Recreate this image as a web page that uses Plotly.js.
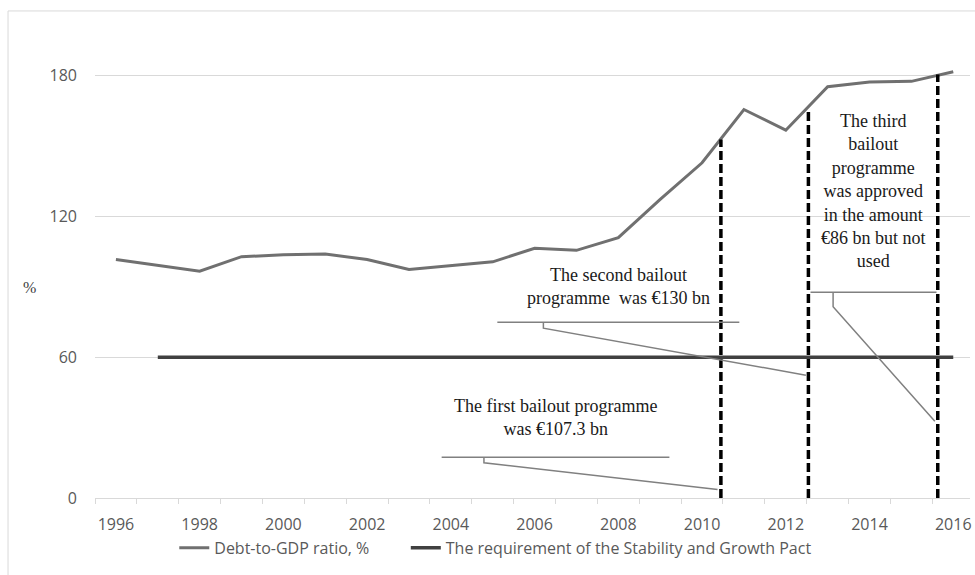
<!DOCTYPE html>
<html>
<head>
<meta charset="utf-8">
<script src="https://cdn.plot.ly/plotly-3.0.1.min.js"></script>
<style>html,body{margin:0;padding:0;background:#fff;}#chart{width:975px;height:575px;}</style>
</head>
<body>
<div id="chart"></div>
<script>
// ---- data ----
const years = [1996,1997,1998,1999,2000,2001,2002,2003,2004,2005,2006,2007,2008,2009,2010,2011,2012,2013,2014,2015,2016];
const debtToGDP = [101.6,99.0,96.6,102.8,103.6,103.9,101.6,97.4,99.1,100.6,106.4,105.5,110.9,127.2,142.8,165.5,156.7,175.2,177.2,177.5,181.6];
const sgpYears = [1997,1998,1999,2000,2001,2002,2003,2004,2005,2006,2007,2008,2009,2010,2011,2012,2013,2014,2015,2016];
const sgpLimit = [60,60,60,60,60,60,60,60,60,60,60,60,60,60,60,60,60,60,60,60];
const programmeDates = [2010.45, 2012.54, 2015.63];
const programmeTops = [152.7, 165.5, 180.4];
const yTicks = [0, 60, 120, 180];
const xTickYears = [1996,1998,2000,2002,2004,2006,2008,2010,2012,2014,2016];
const seriesNames = ["Debt-to-GDP ratio, %", "The requirement of the Stability and Growth Pact"];
const calloutTexts = [
  "The first bailout programme<br>was €107.3 bn",
  "The second bailout<br>programme  was €130 bn",
  "The third<br>bailout<br>programme<br>was approved<br>in the amount<br>€86 bn but not<br>used"
];

// ---- layout helpers (positions of callouts, in axis units) ----
const calloutGeom = [
  {text:[2006.50, 34.1], bar:[2003.78, 2009.22, 17.4], tick:[2004.79, 15.0], tip:[2010.37, 3.6]},
  {text:[2008.00, 89.9], bar:[2005.11, 2010.89, 74.9], tick:[2006.21, 72.35], tip:[2012.48, 52.3]},
  {text:[2014.10, 130.6], bar:[2012.59, 2015.60, 87.7], tick:[2013.13, 81.5], tip:[2015.56, 32.7]}
];

const traces = [
  {x: years, y: debtToGDP, name: seriesNames[0], type: 'scatter', mode: 'lines',
   line: {color: '#707070', width: 3}, legend: 'legend'},
  {x: sgpYears, y: sgpLimit, name: seriesNames[1], type: 'scatter', mode: 'lines',
   line: {color: '#404040', width: 3.5}, legend: 'legend2'}
];

const shapes = [];
// outer chart border
shapes.push({type:'rect', xref:'paper', yref:'paper', x0:-0.0994, x1:1.2, y0:-0.3, y1:1.092,
  line:{color:'#d9d9d9', width:1}, fillcolor:'rgba(0,0,0,0)', layer:'below'});
programmeDates.forEach((d, i) => {
  shapes.push({type:'line', xref:'x', yref:'y', x0:d, x1:d, y0:0, y1:programmeTops[i],
    line:{color:'#000000', width:3.5, dash:'9px,4px'}});
});
const leaderStyle = {color:'#808080', width:1.5};
calloutGeom.forEach(g => {
  shapes.push({type:'line', x0:g.bar[0], x1:g.bar[1], y0:g.bar[2], y1:g.bar[2], line:leaderStyle});
  shapes.push({type:'path',
    path:`M ${g.tick[0]} ${g.bar[2]} L ${g.tick[0]} ${g.tick[1]} L ${g.tip[0]} ${g.tip[1]}`,
    line:leaderStyle});
});

const annotations = calloutGeom.map((g, i) => ({
  x: g.text[0], y: g.text[1], xref:'x', yref:'y', text: calloutTexts[i], showarrow:false,
  xanchor:'center', yanchor:'middle', align:'center',
  font:{family:'Liberation Serif, Times New Roman, serif', size:18, color:'#1a1a1a'}
}));
annotations.push({xref:'paper', yref:'paper', x:-0.0754, y:0.472, xanchor:'center', text:'%', showarrow:false,
  font:{family:'Liberation Serif, serif', size:16, color:'#404040'}});

const legendFont = {family:'Open Sans, sans-serif', size:16, color:'#595959'};
const layout = {
  width: 975, height: 575,
  margin: {l: 95, r: 5, t: 52, b: 77},
  paper_bgcolor: '#ffffff', plot_bgcolor: '#ffffff',
  showlegend: true,
  legend: {orientation:'h', x:0.0906, xanchor:'left', y:-0.112, yanchor:'middle',
    font:legendFont, itemwidth:30},
  legend2: {orientation:'h', x:0.3552, xanchor:'left', y:-0.112, yanchor:'middle',
    font:legendFont, itemwidth:30},
  xaxis: {
    range: [1995.5, 2016.4], tickmode:'array', tickvals: xTickYears, ticktext: xTickYears.map(String),
    ticks:'', showgrid:false, zeroline:false, showline:true, linecolor:'#d9d9d9', linewidth:1,
    ticklabelstandoff: 12,
    tickfont:{family:'Open Sans, sans-serif', size:16, color:'#595959'},
    minor:{ticks:'outside', tick0:1995.5, dtick:1, ticklen:5, tickcolor:'#d9d9d9', showgrid:false}
  },
  yaxis: {
    range: [0, 190], tickmode:'array', tickvals: yTicks, ticks:'', showgrid:true, gridcolor:'#d9d9d9',
    gridwidth:1, zeroline:false, showline:false, ticklabelstandoff: 17,
    tickfont:{family:'Open Sans, sans-serif', size:16, color:'#595959'}
  },
  shapes: shapes,
  annotations: annotations
};

Plotly.newPlot('chart', traces, layout, {displayModeBar:false, staticPlot:true});
</script>
</body>
</html>
